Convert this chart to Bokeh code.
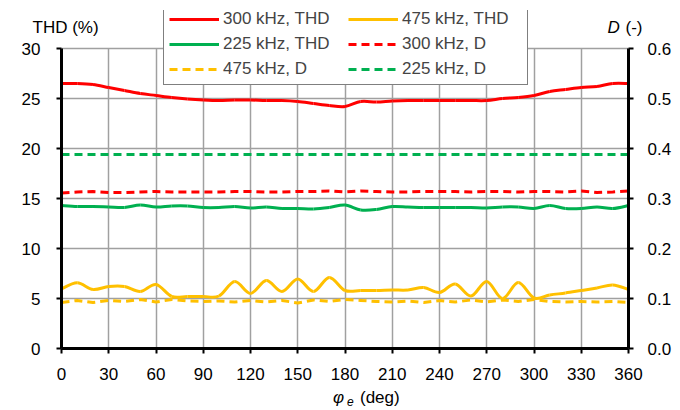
from bokeh.plotting import figure
from bokeh.models import Range1d, LinearAxis, Legend, LegendItem, FixedTicker, NumeralTickFormatter, Grid
from bokeh.core.properties import value
from bokeh.embed import file_html
from bokeh.resources import INLINE

# ---- data ----
phi = [0, 10, 20, 30, 40, 50, 60, 70, 80, 90, 100, 110, 120, 130, 140, 150, 160, 170, 180,
       190, 200, 210, 220, 230, 240, 250, 260, 270, 280, 290, 300, 310, 320, 330, 340, 350, 360]

thd_300 = [26.5, 26.5, 26.4, 26.1, 25.8, 25.5, 25.3, 25.1, 24.95, 24.85, 24.8, 24.85, 24.85,
           24.8, 24.8, 24.7, 24.5, 24.3, 24.2, 24.7, 24.65, 24.75, 24.8, 24.8, 24.8, 24.8,
           24.8, 24.8, 25.0, 25.1, 25.3, 25.7, 25.9, 26.1, 26.2, 26.5, 26.5]
thd_225 = [14.3, 14.2, 14.2, 14.15, 14.1, 14.35, 14.15, 14.25, 14.25, 14.1, 14.1, 14.2, 14.05,
           14.15, 14.0, 14.0, 13.95, 14.1, 14.35, 13.85, 13.9, 14.2, 14.15, 14.1, 14.1, 14.1,
           14.1, 14.05, 14.15, 14.15, 14.0, 14.3, 14.0, 14.0, 14.15, 14.0, 14.3]
thd_475 = [5.97, 6.57, 5.9, 6.2, 6.2, 5.7, 6.4, 5.2, 5.2, 5.2, 5.25, 6.7, 5.5, 6.8, 5.7, 6.95,
           5.7, 7.1, 5.8, 5.8, 5.8, 5.85, 5.85, 6.1, 5.6, 6.45, 5.25, 6.7, 5.0, 6.6, 5.05, 5.35,
           5.55, 5.8, 6.05, 6.35, 5.9]
d_300 = [0.311, 0.313, 0.314, 0.312, 0.312, 0.313, 0.314, 0.313, 0.313, 0.313, 0.313, 0.314,
         0.314, 0.313, 0.313, 0.314, 0.314, 0.315, 0.313, 0.315, 0.314, 0.313, 0.313, 0.314,
         0.314, 0.314, 0.313, 0.314, 0.314, 0.313, 0.314, 0.314, 0.313, 0.315, 0.312, 0.313, 0.315]
d_225 = [0.388] * 37
d_475 = [0.092, 0.096, 0.092, 0.096, 0.094, 0.098, 0.093, 0.098, 0.095, 0.094, 0.095, 0.093,
         0.096, 0.093, 0.096, 0.091, 0.097, 0.094, 0.098, 0.096, 0.094, 0.093, 0.095, 0.092,
         0.096, 0.093, 0.097, 0.093, 0.097, 0.094, 0.098, 0.094, 0.093, 0.094, 0.093, 0.094, 0.092]

x_ticks = [0, 30, 60, 90, 120, 150, 180, 210, 240, 270, 300, 330, 360]
thd_ticks = [0, 5, 10, 15, 20, 25, 30]
d_ticks = [0.0, 0.1, 0.2, 0.3, 0.4, 0.5, 0.6]

RED = "#FF0000"
GREEN = "#00B050"
YELLOW = "#FFC000"
FONT = "Liberation Sans"
FS = "17px"

THD_MAX, D_MAX = 30, 0.6
HEAD = 38 / 300  # extra headroom above the axes (for the legend), as a fraction of the axis span

p = figure(width=672, height=408, output_backend="svg", toolbar_location=None,
           x_range=Range1d(0, 360), y_range=Range1d(0, THD_MAX * (1 + HEAD)),
           frame_width=567, frame_height=338,
           min_border_left=61, min_border_right=44, min_border_top=10, min_border_bottom=60)
p.outline_line_color = None
p.background_fill_color = "white"
p.extra_y_ranges = {"D": Range1d(0, D_MAX * (1 + HEAD))}


def style_axis(ax):
    ax.axis_line_color = "black"
    ax.axis_line_width = 3
    ax.major_tick_line_color = "black"
    ax.major_tick_line_width = 2
    ax.major_tick_out = 5
    ax.major_tick_in = 0
    ax.minor_tick_line_color = None
    ax.major_label_text_font = FONT
    ax.major_label_text_font_size = FS
    ax.major_label_text_color = "black"


p.xaxis.ticker = FixedTicker(ticks=x_ticks)
p.yaxis.ticker = FixedTicker(ticks=thd_ticks)
p.yaxis.bounds = (0, THD_MAX)
style_axis(p.xaxis[0])
style_axis(p.yaxis[0])
p.xaxis.major_label_standoff = 14
p.yaxis.major_label_standoff = 16

raxis = LinearAxis(y_range_name="D", ticker=FixedTicker(ticks=d_ticks),
                   formatter=NumeralTickFormatter(format="0.0"), bounds=(0, D_MAX))
style_axis(raxis)
raxis.major_label_standoff = 14
p.add_layout(raxis, "right")

GRID = "#A0A0A0"
p.ygrid.grid_line_color = GRID
p.ygrid.grid_line_width = 1.5
p.ygrid.ticker = FixedTicker(ticks=thd_ticks)
p.xgrid.ticker = FixedTicker(ticks=x_ticks)
if "cross_bounds" in Grid.properties():
    p.xgrid.grid_line_color = GRID
    p.xgrid.grid_line_width = 1.5
    p.xgrid.cross_bounds = (0, THD_MAX)
else:
    p.xgrid.grid_line_color = None
    p.segment(x0=x_ticks, y0=[0] * len(x_ticks), x1=x_ticks, y1=[THD_MAX] * len(x_ticks),
              line_color=GRID, line_width=1.5, level="underlay")

LW = 3
DASH = "8 5"


def smooth(xs, ys, color):
    """Smoothed (Catmull-Rom style) curve through the data points."""
    n = len(xs)
    x0, y0, x1, y1, cx0, cy0, cx1, cy1 = [], [], [], [], [], [], [], []
    for i in range(n - 1):
        xa, ya = xs[max(i - 1, 0)], ys[max(i - 1, 0)]
        xb, yb = xs[i], ys[i]
        xc, yc = xs[i + 1], ys[i + 1]
        xd, yd = xs[min(i + 2, n - 1)], ys[min(i + 2, n - 1)]
        x0.append(xb); y0.append(yb); x1.append(xc); y1.append(yc)
        cx0.append(xb + (xc - xa) / 6); cy0.append(yb + (yc - ya) / 6)
        cx1.append(xc - (xd - xb) / 6); cy1.append(yc - (yd - yb) / 6)
    return p.bezier(x0=x0, y0=y0, x1=x1, y1=y1, cx0=cx0, cy0=cy0, cx1=cx1, cy1=cy1,
                    line_color=color, line_width=LW)


r_d475 = p.line(phi, d_475, y_range_name="D", color=YELLOW, line_width=LW, line_dash=DASH)
r_d300 = p.line(phi, d_300, y_range_name="D", color=RED, line_width=LW, line_dash=DASH)
r_d225 = p.line(phi, d_225, y_range_name="D", color=GREEN, line_width=LW, line_dash=DASH)
r_t475 = smooth(phi, thd_475, YELLOW)
r_t225 = smooth(phi, thd_225, GREEN)
r_t300 = smooth(phi, thd_300, RED)

legend = Legend(items=[
    LegendItem(label="300 kHz, THD", renderers=[r_t300]),
    LegendItem(label="225 kHz, THD", renderers=[r_t225]),
    LegendItem(label="475 kHz, D", renderers=[r_d475]),
    LegendItem(label="475 kHz, THD", renderers=[r_t475]),
    LegendItem(label="300 kHz, D", renderers=[r_d300]),
    LegendItem(label="225 kHz, D", renderers=[r_d225]),
], ncols=2, location=(102, 263))
legend.label_text_font = FONT
legend.label_text_font_size = FS
legend.label_standoff = 4
legend.label_width = 120
legend.glyph_width = 50
legend.glyph_height = 20
legend.label_height = 20
legend.spacing = 5
legend.padding = 5
legend.margin = 0
legend.border_line_color = "black"
legend.border_line_width = 1.5
legend.background_fill_color = "white"
legend.background_fill_alpha = 1
p.add_layout(legend, "center")


# axis titles: overlay-level text anchored at axis ends, with pixel offsets
def lab(x, y, text, xo, yo, style="normal", size=FS):
    p.text(x=[x], y=[y], text=[text], x_offset=xo, y_offset=yo,
           text_font=value(FONT), text_font_size=value(size), text_font_style=style,
           text_color="black", text_align="left", text_baseline="middle", level="overlay")


lab(0, THD_MAX, "THD (%)", -29, -21)
lab(360, THD_MAX, "D", -21, -21, style="italic")
lab(360, THD_MAX, "(-)", -3, -21)
lab(180, 0, "φ", -12, 49, style="italic")
lab(180, 0, "e", 2, 53, style="italic", size="12px")
lab(180, 0, "(deg)", 15, 49)

open("out.html", "w").write(file_html(p, INLINE))
